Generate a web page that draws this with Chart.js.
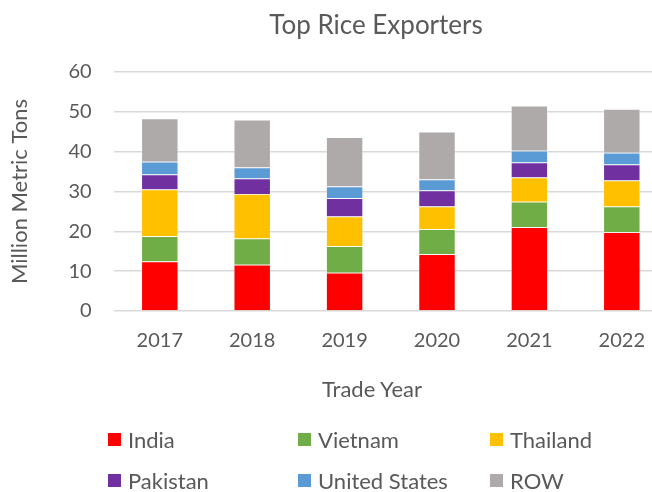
<!DOCTYPE html>
<html>
<head>
<meta charset="utf-8">
<script src="https://cdn.jsdelivr.net/npm/chart.js@4"></script>
<style>
  html, body { margin: 0; padding: 0; background: #fff; }
  body { width: 652px; height: 492px; overflow: hidden; position: relative; font-family: Lato, sans-serif; color: #595959; }
  #wrap { position: absolute; left: 0; top: 0; width: 752px; height: 492px; }
  .label { position: absolute; white-space: nowrap; transform: translate(-50%, -50%); }
  #title { left: 376px; top: 24px; font-size: 26px; }
  #xTitle { left: 372px; top: 388px; font-size: 22px; }
  .legend-item { position: absolute; display: flex; align-items: center; font-size: 22px; white-space: nowrap; }
  .legend-item span.box { display: inline-block; width: 13px; height: 13px; margin-right: 7px; }
</style>
</head>
<body>
<div id="wrap"><canvas id="riceChart" width="752" height="492"></canvas></div>
<div id="title" class="label">Top Rice Exporters</div>
<div id="xTitle" class="label">Trade Year</div>
<div id="legend"></div>
<script>
// Chart data (million metric tons)
const years = ['2017', '2018', '2019', '2020', '2021', '2022'];
const india = [12.4, 11.6, 9.6, 14.25, 21.0, 19.75];
const vietnam = [6.35, 6.6, 6.65, 6.25, 6.4, 6.5];
const thailand = [11.75, 11.2, 7.5, 5.75, 6.1, 6.5];
const pakistan = [3.75, 3.85, 4.55, 4.0, 3.8, 4.05];
const unitedStates = [3.25, 2.75, 2.95, 2.75, 2.95, 2.9];
const rest = [10.8, 12.0, 12.35, 12.0, 11.25, 11.0];
const yTicks = [0, 10, 20, 30, 40, 50, 60];

const seriesNames = ['India', 'Vietnam', 'Thailand', 'Pakistan', 'United States', 'ROW'];
const seriesData = [india, vietnam, thailand, pakistan, unitedStates, rest];
const seriesColors = ['#FF0000', '#70AD47', '#FFC000', '#7030A0', '#5B9BD5', '#AEAAAA'];

const textColor = '#595959';
const font = 'Lato';

document.addEventListener('DOMContentLoaded', () => {
  initChart();
  buildLegend();
});

function initChart() {
  const ctx = document.getElementById('riceChart');
  new Chart(ctx, {
    type: 'bar',
    data: {
      labels: years,
      datasets: seriesNames.map((name, i) => ({
        label: name,
        data: seriesData[i],
        backgroundColor: seriesColors[i],
        borderColor: 'rgba(255,255,255,0.7)',
        borderWidth: 0.75,
        categoryPercentage: 1,
        barPercentage: 0.4
      }))
    },
    options: {
      responsive: false,
      animation: false,
      layout: { padding: { left: 7, right: 84, top: 72, bottom: 121 } },
      plugins: {
        legend: { display: false },
        tooltip: { enabled: false },
        title: { display: false }
      },
      scales: {
        x: {
          stacked: true,
          grid: { display: false, drawTicks: false },
          border: { display: false },
          ticks: { color: textColor, font: { family: font, size: 20 }, padding: 18 }
        },
        y: {
          stacked: true,
          min: 0,
          max: 60,
          afterBuildTicks: (axis) => { axis.ticks = yTicks.map(v => ({ value: v })); },
          grid: { color: '#D9D9D9', lineWidth: 1.5, drawTicks: false },
          border: { display: false },
          ticks: { color: textColor, font: { family: font, size: 20 }, padding: 22 },
          title: {
            display: true,
            text: 'Million Metric Tons',
            color: textColor,
            font: { family: font, size: 22 },
            padding: { top: 0, bottom: 13 }
          }
        }
      }
    }
  });
}

function buildLegend() {
  const legend = document.getElementById('legend');
  const colLeft = [108, 298, 490];
  const rowTop = [426, 467];
  seriesNames.forEach((name, i) => {
    const item = document.createElement('div');
    item.className = 'legend-item';
    item.style.left = colLeft[i % 3] + 'px';
    item.style.top = rowTop[Math.floor(i / 3)] + 'px';
    item.innerHTML = `<span class="box" style="background:${seriesColors[i]}"></span>${name}`;
    legend.appendChild(item);
  });
}
</script>
</body>
</html>
